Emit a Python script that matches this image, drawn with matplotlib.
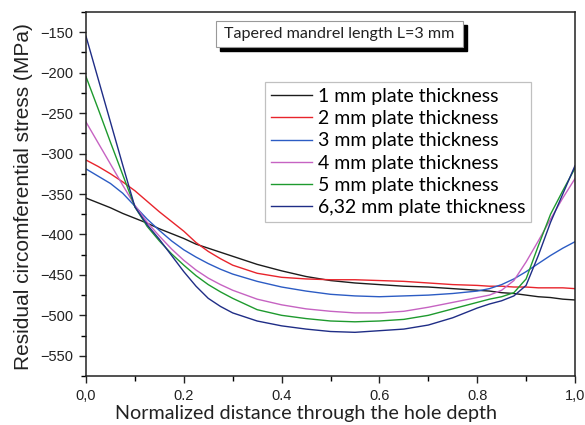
import matplotlib
matplotlib.use("Agg")
import matplotlib.pyplot as plt
from matplotlib.ticker import MultipleLocator
from matplotlib.patches import Rectangle

# ----------------------------------------------------------------
# Datos

x_depth = [0.0, 0.025, 0.05, 0.075, 0.1, 0.125, 0.15, 0.175, 0.2, 0.225, 0.25,
           0.275, 0.3, 0.35, 0.4, 0.45, 0.5, 0.55, 0.6, 0.65, 0.7, 0.75, 0.8,
           0.825, 0.85, 0.875, 0.9, 0.925, 0.95, 0.975, 1.0]

stress_1mm = [-355, -361, -367, -374, -380, -386, -393, -399, -405, -412, -417,
              -422, -427, -437, -445, -452, -457, -460, -462, -464, -465, -467,
              -469, -470, -472, -473, -475, -477, -478, -480, -481]
stress_2mm = [-308, -316, -325, -335, -346, -359, -372, -384, -396, -410, -421,
              -430, -438, -448, -453, -455, -456, -456, -457, -458, -460, -462,
              -463, -464, -464, -465, -465, -466, -466, -466, -467]
stress_3mm = [-319, -328, -337, -349, -365, -381, -395, -408, -419, -428, -436,
              -443, -449, -458, -465, -470, -474, -476, -477, -476, -475, -473,
              -470, -467, -462, -455, -446, -436, -426, -417, -409]
stress_4mm = [-261, -287, -313, -339, -364, -385, -402, -418, -432, -444, -454,
              -462, -469, -480, -487, -492, -495, -497, -497, -495, -490, -484,
              -478, -475, -469, -457, -434, -408, -381, -355, -331]
stress_5mm = [-205, -245, -286, -326, -366, -390, -408, -424, -438, -451, -462,
              -471, -479, -493, -500, -504, -507, -508, -507, -505, -500, -492,
              -484, -480, -477, -472, -455, -414, -375, -346, -318]
stress_632mm = [-155, -208, -261, -314, -366, -388, -406, -426, -446, -464, -479,
                -489, -497, -507, -513, -517, -520, -521, -519, -517, -512, -503,
                -491, -486, -482, -476, -463, -426, -385, -350, -315]

series_labels = ["1 mm plate thickness", "2 mm plate thickness",
                 "3 mm plate thickness", "4 mm plate thickness",
                 "5 mm plate thickness", "6,32 mm plate thickness"]
series_colors = ["#1c1c1c", "#e8242c", "#2c5cc4", "#c663c2", "#1e9a2e", "#1f2d86"]

x_ticks = [0.0, 0.2, 0.4, 0.6, 0.8, 1.0]
x_tick_labels = ["0,0", "0.2", "0.4", "0.6", "0.8", "1,0"]
y_ticks = [-550, -500, -450, -400, -350, -300, -250, -200, -150]

title_text = "Tapered mandrel length L=3 mm"

# ----------------------------------------------------------------
# Grafica

fig = plt.figure(figsize=(5.85, 4.25), dpi=100)
ax = fig.add_axes([86 / 585, 49 / 425, 489 / 585, 364 / 425])

all_series = [stress_1mm, stress_2mm, stress_3mm, stress_4mm, stress_5mm, stress_632mm]
for values, label, color in zip(all_series, series_labels, series_colors):
    ax.plot(x_depth, values, color=color, lw=1.0, label=label)

ax.set_xlim(0, 1.0)
ax.set_ylim(-575, -125)
ax.set_xticks(x_ticks)
ax.set_xticklabels(x_tick_labels)
ax.set_yticks(y_ticks)
ax.xaxis.set_minor_locator(MultipleLocator(0.1))
ax.yaxis.set_minor_locator(MultipleLocator(25))

ax.tick_params(which="major", direction="out", length=5, width=1.0,
               labelsize=10.5, colors="#222222", top=False, right=False, pad=4)
ax.tick_params(which="minor", direction="out", length=3.5, width=1.0,
               top=False, right=False)
for tl in ax.get_xticklabels() + ax.get_yticklabels():
    tl.set_fontfamily("Liberation Sans")
for sp in ax.spines.values():
    sp.set_linewidth(1.1)
    sp.set_color("#222222")

fig.text(24 / 585, 1 - 197 / 425, "Residual circomferential stress (MPa)",
         rotation=90, ha="center", va="center", fontsize=15.0,
         family="Liberation Sans", color="#222222")
fig.text(306 / 585, 1 - 414 / 425, "Normalized distance through the hole depth",
         ha="center", va="center", fontsize=14.2, family="Lato", color="#222222")

leg = ax.legend(loc="upper left", bbox_to_anchor=((265 - 86) / 489, (376 - 82) / 364),
                frameon=True, fancybox=False, framealpha=1, edgecolor="#c0c0c0",
                prop={"family": "Lato", "size": 14}, handlelength=2.1,
                handletextpad=0.3, labelspacing=0.27, borderpad=0.3,
                borderaxespad=0)
leg.get_frame().set_linewidth(0.9)

# caja del titulo con sombra
bx0, by0, bw, bh = (216 - 86) / 489, (376 - 47) / 364, 247 / 489, 26 / 364
ax.add_patch(Rectangle((bx0 + 4 / 489, by0 - 4 / 364), bw, bh, transform=ax.transAxes,
                       facecolor="black", edgecolor="black", zorder=5))
ax.add_patch(Rectangle((bx0, by0), bw, bh, transform=ax.transAxes,
                       facecolor="white", edgecolor="#999999", lw=0.8, zorder=6))
ax.text(bx0 + bw / 2, by0 + bh / 2, title_text, transform=ax.transAxes,
        ha="center", va="center", fontsize=11.6, family="Lato", color="#222222", zorder=7)

fig.savefig("out.png", dpi=100)
